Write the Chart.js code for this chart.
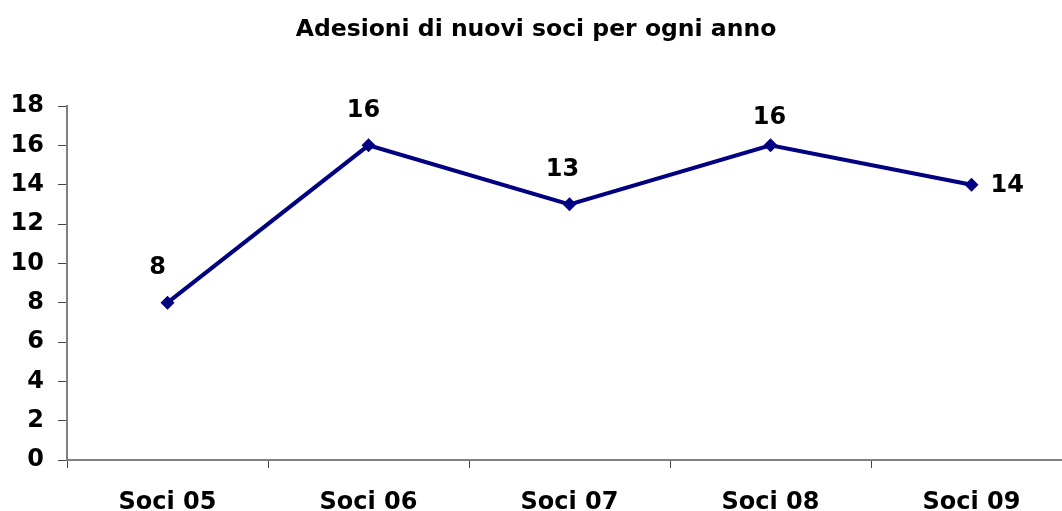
<!DOCTYPE html>
<html>
<head>
<meta charset="utf-8">
<script src="https://cdn.jsdelivr.net/npm/chart.js@4.4.1/dist/chart.umd.min.js"></script>
<style>
html,body{margin:0;padding:0;background:#fff;overflow:hidden;}
#wrap{width:1072px;height:511px;position:relative;}
canvas{display:block;}
</style>
</head>
<body>
<div id="wrap"><canvas id="c" width="1072" height="511" style="width:1072px;height:511px"></canvas></div>
<script>
const categories = ["Soci 05", "Soci 06", "Soci 07", "Soci 08", "Soci 09"];
const values = [8, 16, 13, 16, 14];
const chartTitle = "Adesioni di nuovi soci per ogni anno";
const yMin = 0, yMax = 18, yStep = 2;

// label placement (style only): side and pixel nudges
const labelSides = ["top", "top", "top", "top", "right"];
const labelDx = [-10, -5, -7, -1, 19];
const labelDy = [-36, -36, -36, -29, 0];

const FONT = "'DejaVu Sans', Verdana, sans-serif";

const dataLabels = {
  id: 'dataLabels',
  afterDatasetsDraw(chart) {
    const ctx = chart.ctx;
    const meta = chart.getDatasetMeta(0);
    ctx.save();
    ctx.font = "bold 24px " + FONT;
    ctx.fillStyle = "#000";
    ctx.textBaseline = "middle";
    meta.data.forEach((pt, i) => {
      const v = chart.data.datasets[0].data[i];
      ctx.textAlign = labelSides[i] === 'right' ? "left" : "center";
      ctx.fillText(String(v), pt.x + labelDx[i], pt.y + labelDy[i] + 1);
    });
    ctx.restore();
  }
};

new Chart(document.getElementById('c'), {
  type: 'line',
  data: {
    labels: categories,
    datasets: [{
      data: values,
      borderColor: '#000080',
      backgroundColor: '#000080',
      borderWidth: 4,
      pointStyle: 'rectRot',
      pointRadius: 7,
      pointBorderWidth: 0,
      tension: 0,
      fill: false
    }]
  },
  options: {
    responsive: false,
    animation: false,
    layout: { padding: 0, autoPadding: false },
    plugins: {
      legend: { display: false },
      tooltip: { enabled: false },
      title: {
        display: true,
        text: chartTitle,
        color: '#000',
        font: { family: FONT, size: 23.5, weight: 'bold', lineHeight: 1.2 },
        padding: { top: 15.4, bottom: 62.4 }
      }
    },
    scales: {
      x: {
        type: 'category',
        offset: true,
        grid: {
          display: true,
          offset: true,
          drawOnChartArea: false,
          drawTicks: true,
          tickLength: 8,
          color: '#444',
          lineWidth: 1
        },
        border: { display: true, color: '#808080', width: 2 },
        ticks: {
          color: '#000',
          font: { family: FONT, size: 24, weight: 'bold', lineHeight: 1.2 },
          padding: 20,
          maxRotation: 0
        },
        afterFit(s) { s.height = 51; s.paddingLeft = 0; s.paddingRight = 0; }
      },
      y: {
        min: yMin,
        max: yMax,
        grid: {
          display: true,
          drawOnChartArea: false,
          drawTicks: true,
          tickLength: 9,
          color: '#444',
          lineWidth: 1
        },
        border: { display: true, color: '#808080', width: 2 },
        ticks: {
          stepSize: yStep,
          color: '#000',
          font: { family: FONT, size: 24, weight: 'bold' },
          padding: 14
        },
        afterFit(s) { s.width = 67; }
      }
    }
  },
  plugins: [dataLabels]
});
</script>
</body>
</html>
